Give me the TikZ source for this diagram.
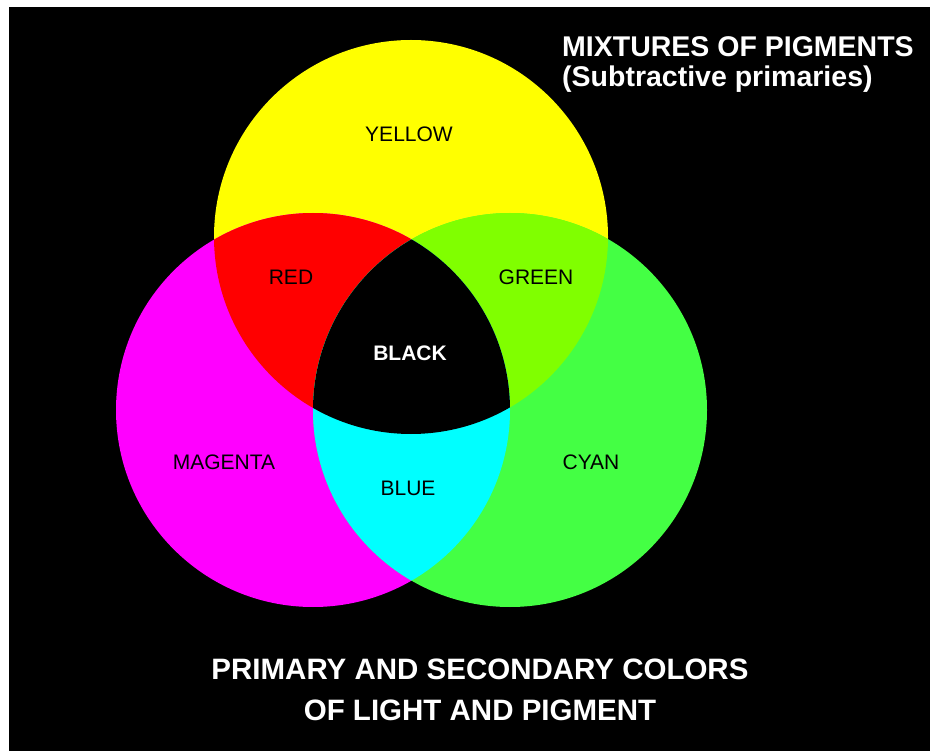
\documentclass[tikz,border=0pt]{standalone}
\usepackage{fontspec}
\setmainfont{Liberation Sans}
\definecolor{pyellow}{RGB}{255,255,0}
\definecolor{pmagenta}{RGB}{255,0,255}
\definecolor{pcyan}{RGB}{68,255,68}
\definecolor{pred}{RGB}{255,0,0}
\definecolor{pgreen}{RGB}{128,255,0}
\definecolor{pblue}{RGB}{0,255,255}
\tikzset{
  mixlabel/.style={inner sep=0pt,font=\fontsize{21}{24}\selectfont},
  heading/.style={inner sep=0pt,text=white,font=\bfseries\fontsize{28.5}{32}\selectfont}
}
\begin{document}
\begin{tikzpicture}[x=1pt,y=-1pt]
\useasboundingbox (0,0) rectangle (932,751);
\fill[black] (9,7) rectangle (930,751);

% the three pigment circles
\fill[pyellow] (411,237) circle (197pt);
\fill[pmagenta] (313,410) circle (197pt);
\fill[pcyan] (510,410) circle (197pt);

% two-way mixtures
\begin{scope}
\clip (411,237) circle (197pt);
\fill[pred] (313,410) circle (197pt);
\fill[pgreen] (510,410) circle (197pt);
\end{scope}
\begin{scope}
\clip (313,410) circle (197pt);
\fill[pblue] (510,410) circle (197pt);
\end{scope}

% all three
\begin{scope}
\clip (411,237) circle (197pt);
\clip (313,410) circle (197pt);
\fill[black] (510,410) circle (197pt);
\end{scope}

\node[mixlabel] (yellow) at (409,134) {YELLOW};
\node[mixlabel] (red) at (291,277) {RED};
\node[mixlabel] (green) at (536,277) {GREEN};
\node[mixlabel,text=white,font=\bfseries\fontsize{21}{24}\selectfont] (black) at (410,353) {BLACK};
\node[mixlabel] (magenta) at (224,462) {MAGENTA};
\node[mixlabel] (blue) at (408,488) {BLUE};
\node[mixlabel] (cyan) at (591,462) {CYAN};

\node[heading,anchor=base west] (mixtitle) at (562,57) {MIXTURES OF PIGMENTS};
\node[heading,anchor=base west] (mixsub) at (562,87) {(Subtractive primaries)};
\node[heading,anchor=base,font=\bfseries\fontsize{29.5}{33}\selectfont] (footA) at (480,679) {PRIMARY AND SECONDARY COLORS};
\node[heading,anchor=base,font=\bfseries\fontsize{29.5}{33}\selectfont] (footB) at (480,720) {OF LIGHT AND PIGMENT};
\end{tikzpicture}
\end{document}
